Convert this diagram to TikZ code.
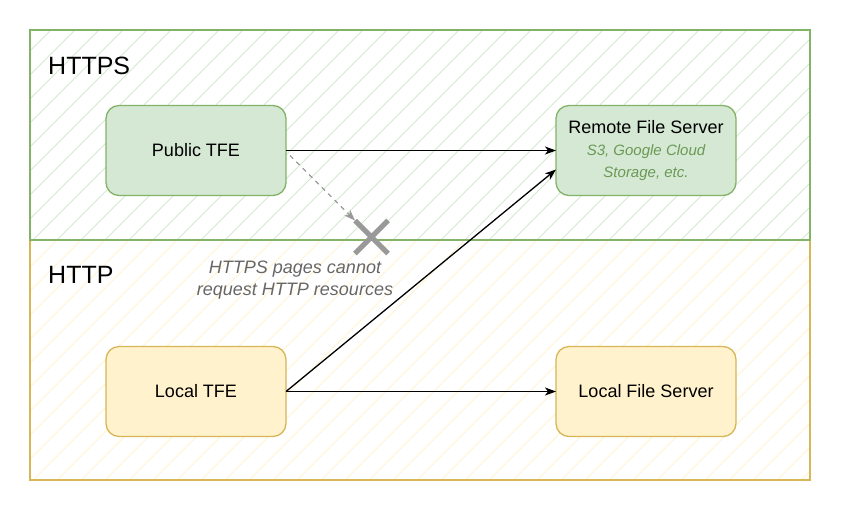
\documentclass[tikz,border=0pt]{standalone}
\usepackage{fontspec}
\setmainfont{Liberation Sans}
\usepackage{tikz}
\usetikzlibrary{arrows.meta, positioning, shapes.misc}
\definecolor{greenfill}{HTML}{D5E8D4}
\definecolor{greenline}{HTML}{82B366}
\definecolor{yellowfill}{HTML}{FFF2CC}
\definecolor{yellowline}{HTML}{D6B656}
\definecolor{notegray}{HTML}{666666}
\definecolor{crossgray}{HTML}{999999}
\definecolor{subgreen}{HTML}{6A9955}
\tikzset{
    zone/.style 2 args={rectangle, draw=#1line, line width=1.3pt, outer sep=0pt, minimum width=780pt, anchor=north west,
        path picture={\foreach \c in {#2,\the\numexpr#2+24\relax,...,620} \draw[#1fill, line width=1pt] (\c+200,-200) -- (\c-200,200);}},
    zonetitle/.style={anchor=west, inner sep=0pt, font=\fontsize{25}{30}\selectfont},
    block/.style={rectangle, draw=#1line, fill=#1fill, line width=1.3pt, rounded corners=13pt, align=center, outer sep=0pt,
        minimum width=180pt, minimum height=90pt, font=\fontsize{18}{22}\selectfont},
    arrow/.style={line width=1.3pt, -{Stealth[length=11pt, width=8pt, inset=3pt]}},
    dasharrow/.style={line width=1.3pt, crossgray, dash pattern=on 4.5pt off 4.5pt, -{Stealth[length=11pt, width=8pt, inset=3pt]}},
    blocked/.style={cross out, draw=crossgray, line width=5pt, minimum size=33pt, inner sep=0pt, outer sep=0pt},
    note/.style={align=center, text=notegray, font=\fontsize{18}{22}\selectfont\itshape}
}
\newcommand{\subtxt}{\fontsize{15}{22}\selectfont\itshape\color{subgreen}}

\begin{document}
\begin{tikzpicture}[x=1pt, y=-1pt, node distance=151pt and 270pt]
    \useasboundingbox (0,0) rectangle (842,512);
    % zones
    \node[zone={yellow}{-603}, minimum height=240pt] (http) at (30,240) {};
    \node[zone={green}{-594}, minimum height=210pt] (https) at (30,30) {};
    \node[zonetitle] (https_title) at ([xshift=18pt, yshift=-36pt]https.north west) {HTTPS};
    \node[zonetitle] (http_title) at ([xshift=18pt, yshift=-35pt]http.north west) {HTTP};

    % servers
    \node[block=green] (pub_tfe) at (196,150.5) {Public TFE};
    \node[block=green, right=of pub_tfe] (remote_fs) {Remote File Server\\{\subtxt S3, Google Cloud}\\{\subtxt Storage, etc.}};
    \node[block=yellow, below=of pub_tfe] (local_tfe) {Local TFE};
    \node[block=yellow, below=of remote_fs] (local_fs) {Local File Server};

    \node[blocked] (cross) at (371.5,237) {};
    \node[note] (cross_note) at (295,280.5) {HTTPS pages cannot\\request HTTP resources};

    \draw[arrow] (pub_tfe) -- (remote_fs);
    \draw[arrow] (local_tfe.east) -- ([yshift=-19pt]remote_fs.west);
    \draw[arrow] (local_tfe) -- (local_fs);
    \draw[dasharrow] ([xshift=4pt, yshift=-5pt]pub_tfe.east) -- (cross.north west);
\end{tikzpicture}
\end{document}
